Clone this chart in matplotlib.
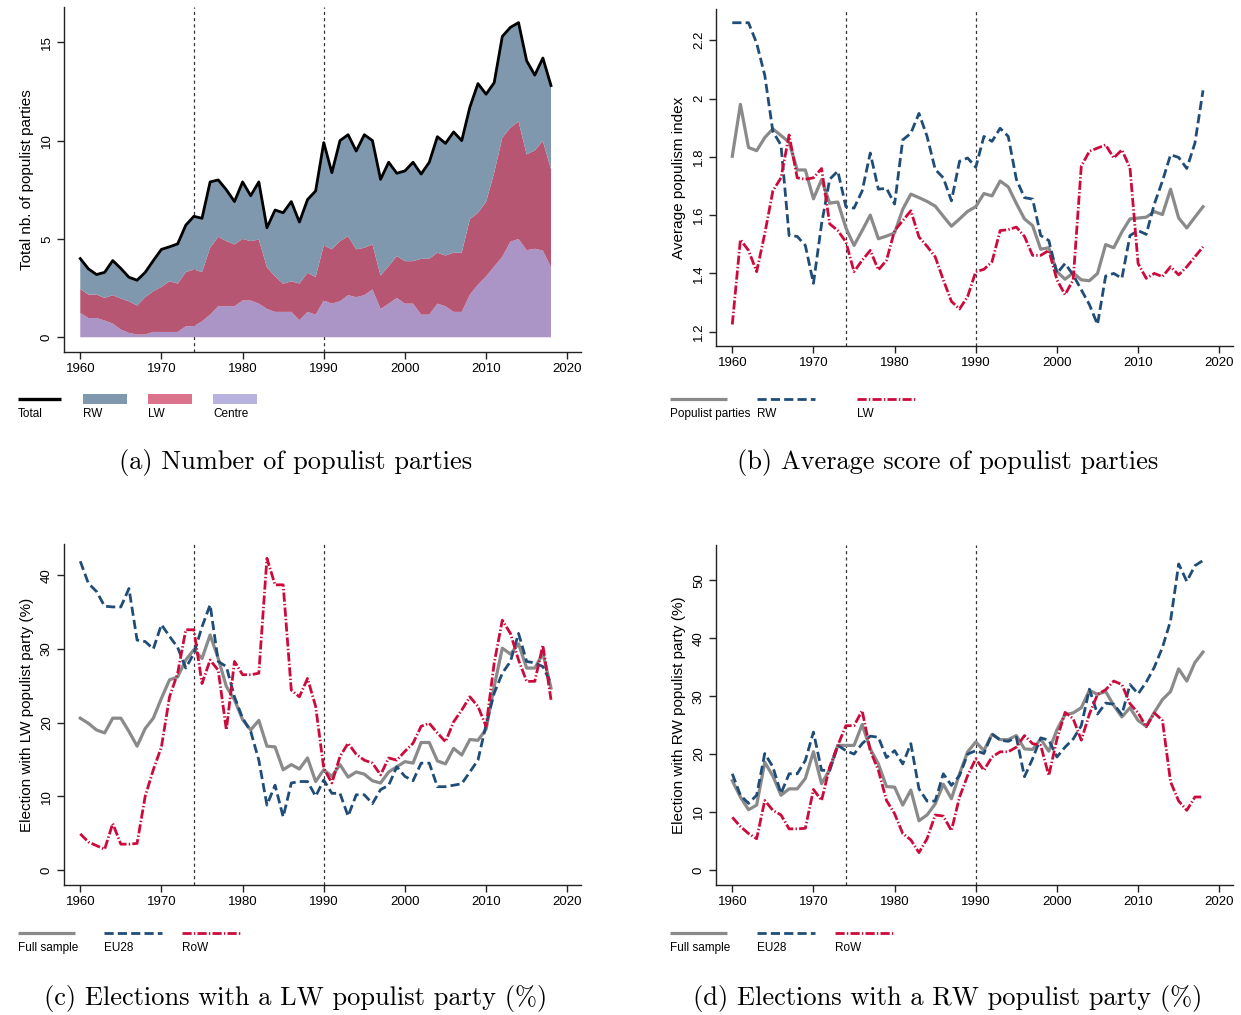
import numpy as np
import matplotlib
matplotlib.use("Agg")
import matplotlib.pyplot as plt
from matplotlib.lines import Line2D
from matplotlib.patches import Rectangle

plt.rcParams['font.family'] = ['Liberation Sans', 'DejaVu Sans']

years = np.arange(1960, 2019)

# (a) number of populist parties, by family
n_centre = [1.24, 0.98, 0.98, 0.85, 0.70, 0.39, 0.22, 0.14, 0.14, 0.27,
            0.27, 0.27, 0.27, 0.56, 0.56, 0.81, 1.15, 1.58, 1.58, 1.58,
            1.87, 1.87, 1.71, 1.44, 1.29, 1.29, 1.29, 0.87, 1.29, 1.15,
            1.87, 1.71, 1.83, 2.14, 2.04, 2.14, 2.43, 1.44, 1.71, 2.00,
            1.71, 1.71, 1.15, 1.15, 1.71, 1.58, 1.29, 1.29, 2.17, 2.68,
            3.10, 3.60, 4.10, 4.86, 5.00, 4.43, 4.50, 4.41, 3.56]
n_lw = [1.22, 1.19, 1.19, 1.15, 1.44, 1.58, 1.61, 1.47, 1.90, 2.07,
        2.29, 2.58, 2.46, 2.75, 2.89, 2.50, 3.40, 3.53, 3.31, 3.14,
        3.13, 3.02, 3.26, 2.12, 1.81, 1.43, 1.56, 1.86, 1.99, 1.91,
        2.80, 2.76, 3.06, 3.00, 2.43, 2.41, 2.29, 1.70, 1.91, 2.13,
        2.16, 2.16, 2.84, 2.84, 2.59, 2.58, 3.01, 3.01, 3.83, 3.65,
        3.78, 4.77, 6.05, 5.80, 5.97, 4.87, 5.00, 5.57, 4.98]
n_rw = [1.54, 1.31, 1.02, 1.30, 1.76, 1.53, 1.22, 1.29, 1.26, 1.56,
        1.91, 1.75, 2.02, 2.39, 2.70, 2.74, 3.35, 2.89, 2.61, 2.18,
        2.90, 2.31, 2.93, 2.01, 3.37, 3.61, 4.05, 3.13, 3.72, 4.38,
        5.23, 3.90, 5.11, 5.16, 5.00, 5.75, 5.28, 4.89, 5.28, 4.21,
        4.59, 5.03, 4.31, 4.91, 5.90, 5.70, 6.14, 5.70, 5.70, 6.57,
        5.48, 4.58, 5.15, 5.10, 5.03, 4.76, 3.83, 4.22, 4.26]

# (b) average populism index
score_all = [1.802, 1.980, 1.832, 1.821, 1.866, 1.896, 1.873, 1.850, 1.755, 1.755,
             1.656, 1.722, 1.641, 1.645, 1.556, 1.496, 1.547, 1.600, 1.519, 1.528,
             1.539, 1.620, 1.672, 1.660, 1.647, 1.631, 1.596, 1.562, 1.587, 1.613,
             1.629, 1.674, 1.666, 1.717, 1.697, 1.640, 1.587, 1.564, 1.483, 1.488,
             1.406, 1.380, 1.402, 1.378, 1.375, 1.400, 1.499, 1.488, 1.542, 1.587,
             1.590, 1.593, 1.612, 1.602, 1.689, 1.590, 1.556, 1.593, 1.629]
score_rw = [2.260, 2.260, 2.260, 2.190, 2.080, 1.887, 1.840, 1.530, 1.527, 1.496,
            1.366, 1.570, 1.723, 1.751, 1.629, 1.624, 1.683, 1.813, 1.689, 1.692,
            1.638, 1.858, 1.881, 1.949, 1.870, 1.757, 1.728, 1.649, 1.785, 1.796,
            1.764, 1.870, 1.853, 1.898, 1.870, 1.723, 1.660, 1.655, 1.530, 1.513,
            1.400, 1.434, 1.395, 1.344, 1.293, 1.225, 1.391, 1.400, 1.383, 1.530,
            1.547, 1.534, 1.638, 1.717, 1.807, 1.798, 1.760, 1.847, 2.028]
score_lw = [1.225, 1.516, 1.479, 1.406, 1.536, 1.683, 1.728, 1.875, 1.728, 1.723,
            1.728, 1.760, 1.570, 1.547, 1.508, 1.406, 1.445, 1.479, 1.412, 1.445,
            1.547, 1.581, 1.615, 1.525, 1.493, 1.457, 1.378, 1.304, 1.278, 1.321,
            1.406, 1.414, 1.440, 1.547, 1.550, 1.559, 1.527, 1.462, 1.462, 1.479,
            1.378, 1.327, 1.378, 1.768, 1.819, 1.830, 1.841, 1.796, 1.824, 1.762,
            1.434, 1.383, 1.400, 1.389, 1.423, 1.395, 1.423, 1.457, 1.491]

# (c) elections with a LW populist party (%)
lw_full = [20.6, 19.9, 19.0, 18.6, 20.6, 20.6, 18.8, 16.8, 19.2, 20.6,
           23.3, 25.8, 26.2, 28.5, 29.9, 28.7, 31.9, 28.7, 24.9, 23.1,
           20.4, 19.0, 20.3, 16.8, 16.7, 13.6, 14.3, 13.7, 15.2, 12.0,
           13.6, 12.7, 14.3, 12.6, 13.3, 13.0, 12.1, 11.8, 13.3, 14.0,
           14.7, 14.5, 17.3, 17.3, 14.8, 14.4, 16.5, 15.6, 17.7, 17.6,
           19.1, 24.9, 30.1, 29.3, 30.7, 27.4, 27.4, 29.4, 24.7]
lw_eu28 = [41.9, 38.9, 37.8, 35.8, 35.7, 35.7, 38.2, 31.2, 31.0, 30.0,
           33.3, 31.7, 30.2, 27.4, 29.4, 33.0, 36.0, 28.3, 27.6, 23.5,
           20.6, 18.8, 14.9, 8.8, 11.5, 7.2, 11.8, 12.0, 12.0, 10.0,
           12.2, 10.4, 10.4, 7.3, 10.2, 10.2, 9.0, 10.9, 11.5, 14.0,
           12.7, 12.1, 14.5, 14.5, 11.3, 11.3, 11.5, 11.7, 13.3, 14.9,
           19.7, 24.0, 26.7, 28.3, 32.1, 28.3, 28.1, 27.6, 25.3]
lw_row = [4.9, 3.8, 3.3, 2.8, 6.3, 3.5, 3.5, 3.6, 10.0, 13.6,
          16.7, 23.5, 26.7, 32.6, 32.6, 25.3, 28.5, 27.1, 19.0, 28.3,
          26.5, 26.5, 26.7, 42.3, 38.7, 38.7, 24.4, 23.5, 26.0, 22.2,
          13.8, 11.8, 15.4, 17.2, 15.7, 14.9, 14.5, 12.9, 15.2, 14.9,
          16.1, 17.2, 19.5, 19.9, 18.6, 17.4, 20.1, 21.7, 23.5, 22.2,
          19.5, 28.1, 33.9, 32.1, 28.5, 25.6, 25.6, 30.5, 23.1]

# (d) elections with a RW populist party (%)
rw_full = [15.4, 12.6, 10.4, 11.2, 18.6, 16.2, 12.9, 14.0, 14.0, 15.8,
           20.4, 14.9, 17.3, 21.5, 21.5, 21.5, 25.1, 20.9, 18.3, 14.4,
           14.3, 11.2, 13.8, 8.5, 9.5, 11.4, 14.8, 12.3, 16.6, 20.4,
           22.1, 20.6, 23.4, 22.5, 22.5, 23.2, 20.9, 20.8, 22.6, 20.5,
           24.2, 26.8, 27.1, 28.0, 31.0, 30.3, 30.8, 28.4, 26.4, 28.0,
           25.8, 24.8, 27.2, 29.4, 30.8, 34.7, 32.6, 35.8, 37.6]
rw_eu28 = [16.6, 12.9, 11.5, 12.9, 20.1, 17.8, 13.2, 16.6, 16.6, 18.9,
           23.8, 17.2, 17.2, 21.5, 20.6, 20.0, 21.8, 23.1, 22.9, 19.4,
           20.6, 18.3, 21.8, 14.0, 11.9, 11.9, 16.6, 14.6, 16.3, 20.0,
           20.6, 20.1, 23.5, 22.4, 22.2, 22.9, 16.1, 19.2, 22.8, 22.4,
           19.5, 21.2, 22.6, 24.9, 31.2, 26.9, 28.8, 28.6, 26.8, 32.0,
           30.4, 32.4, 35.0, 38.4, 43.0, 52.8, 49.8, 52.5, 53.4]
rw_row = [9.1, 7.5, 6.3, 5.4, 12.0, 10.3, 9.5, 7.1, 7.1, 7.2,
          13.9, 12.0, 17.8, 21.5, 24.9, 24.9, 27.5, 20.6, 17.2, 12.0,
          9.7, 6.3, 5.2, 3.0, 5.4, 9.5, 9.3, 6.8, 12.6, 16.3,
          19.2, 17.2, 19.5, 20.4, 20.4, 21.2, 23.2, 21.8, 21.5, 16.3,
          22.6, 27.2, 26.1, 22.4, 26.9, 30.3, 31.1, 32.6, 32.0, 28.7,
          27.1, 24.7, 27.1, 25.8, 15.2, 11.9, 10.3, 12.6, 12.6]

vlines = [1974, 1990]

GREY = '#8a8a8a'
BLUE = '#1f4d78'
RED = '#cc0b3c'
AREA_COLS = ['#ab95c6', '#b75673', '#7f98ae']
KEY_COLS = {'RW': '#7f98ae', 'LW': '#dc738c', 'Centre': '#b8b3de'}
STYLE = {
    'solid': dict(color=GREY, lw=2.3, ls='-'),
    'dash': dict(color=BLUE, lw=2.0, ls=(0, (3.3, 1.5))),
    'dashdot': dict(color=RED, lw=2.0, ls=(0, (3.3, 0.8, 0.5, 0.8))),
}

W, H = 1241, 1015
fig = plt.figure(figsize=(W / 100, H / 100), dpi=100)


def px(x, y):
    return x / W, 1 - y / H


def style_axes(ax, ylim, yticks, ylabel):
    ax.set_xlim(1958, 2021.7)
    ax.set_ylim(*ylim)
    ax.set_xticks(range(1960, 2021, 10))
    ax.set_yticks(yticks)
    for s in ['top', 'right']:
        ax.spines[s].set_visible(False)
    for s in ['left', 'bottom']:
        ax.spines[s].set_linewidth(1.0)
        ax.spines[s].set_color('#222222')
    ax.tick_params(length=5, width=1, color='#222222', labelsize=9.5, pad=3)
    for lab in ax.get_yticklabels():
        lab.set_rotation(90)
        lab.set_va('center')
    ax.set_ylabel(ylabel, fontsize=11, labelpad=5)
    for v in vlines:
        ax.axvline(v, color='#333333', lw=0.9, ls=(0, (2.5, 2.5)), zorder=1)


def legend_row(items, y_key, y_text):
    for x0, x1, label, kind in items:
        if kind in KEY_COLS:
            a, b = px(x0, y_key + 5)
            c, d = px(x1, y_key - 5)
            fig.add_artist(Rectangle((a, b), c - a, d - b, transform=fig.transFigure,
                                     color=KEY_COLS[kind], lw=0))
        else:
            a, b = px(x0, y_key)
            c, _ = px(x1, y_key)
            if kind == 'total':
                st = dict(color='black', lw=2.4, ls='-')
            else:
                st = STYLE[kind]
            fig.add_artist(Line2D([a, c], [b, b], transform=fig.transFigure,
                                  solid_capstyle='butt', dash_capstyle='butt', **st))
        tx, ty = px(x0, y_text)
        fig.text(tx, ty, label, fontsize=8.5, va='center', ha='left')


def caption(x, y, text):
    tx, ty = px(x, y)
    fig.text(tx, ty, text, fontsize=19, ha='center', va='center', family='cmr10')


# (a)
ax_a = fig.add_axes([0.0516, 0.6532, 0.4166, 0.340])
ax_a.stackplot(years, n_centre, n_lw, n_rw, colors=AREA_COLS, lw=0, zorder=2)
total = np.array(n_centre) + np.array(n_lw) + np.array(n_rw)
ax_a.plot(years, total, color='black', lw=2.0, zorder=3)
style_axes(ax_a, (-0.75, 16.8), [0, 5, 10, 15], 'Total nb. of populist parties')
legend_row([(18, 61, 'Total', 'total'), (83, 127, 'RW', 'RW'),
            (148, 192, 'LW', 'LW'), (213, 257, 'Centre', 'Centre')], 399, 414)
caption(296, 463, '(a) Number of populist parties')

# (b)
ax_b = fig.add_axes([0.577, 0.6591, 0.4166, 0.332])
ax_b.plot(years, score_all, zorder=3, **STYLE['solid'])
ax_b.plot(years, score_rw, zorder=3, **STYLE['dash'])
ax_b.plot(years, score_lw, zorder=3, **STYLE['dashdot'])
style_axes(ax_b, (1.151, 2.307), [1.2, 1.4, 1.6, 1.8, 2.0, 2.2], 'Average populism index')
ax_b.set_yticklabels(['1.2', '1.4', '1.6', '1.8', '2', '2.2'], rotation=90, va='center')
legend_row([(670, 727, 'Populist parties', 'solid'), (757, 815, 'RW', 'dash'),
            (857, 915, 'LW', 'dashdot')], 399, 414)
caption(948, 463, '(b) Average score of populist parties')

# (c)
ax_c = fig.add_axes([0.0516, 0.1281, 0.4166, 0.336])
ax_c.plot(years, lw_full, zorder=3, **STYLE['solid'])
ax_c.plot(years, lw_eu28, zorder=3, **STYLE['dash'])
ax_c.plot(years, lw_row, zorder=3, **STYLE['dashdot'])
style_axes(ax_c, (-2.04, 44.25), [0, 10, 20, 30, 40], 'Election with LW populist party (%)')
legend_row([(18, 75, 'Full sample', 'solid'), (104, 162, 'EU28', 'dash'),
            (182, 240, 'RoW', 'dashdot')], 933, 948)
caption(296, 998, '(c) Elections with a LW populist party (%)')

# (d)
ax_d = fig.add_axes([0.577, 0.1281, 0.4166, 0.335])
ax_d.plot(years, rw_full, zorder=3, **STYLE['solid'])
ax_d.plot(years, rw_eu28, zorder=3, **STYLE['dash'])
ax_d.plot(years, rw_row, zorder=3, **STYLE['dashdot'])
style_axes(ax_d, (-2.58, 56.08), [0, 10, 20, 30, 40, 50], 'Election with RW populist party (%)')
legend_row([(670, 727, 'Full sample', 'solid'), (757, 815, 'EU28', 'dash'),
            (835, 893, 'RoW', 'dashdot')], 933, 948)
caption(948, 998, '(d) Elections with a RW populist party (%)')

fig.savefig('out.png', dpi=100)
